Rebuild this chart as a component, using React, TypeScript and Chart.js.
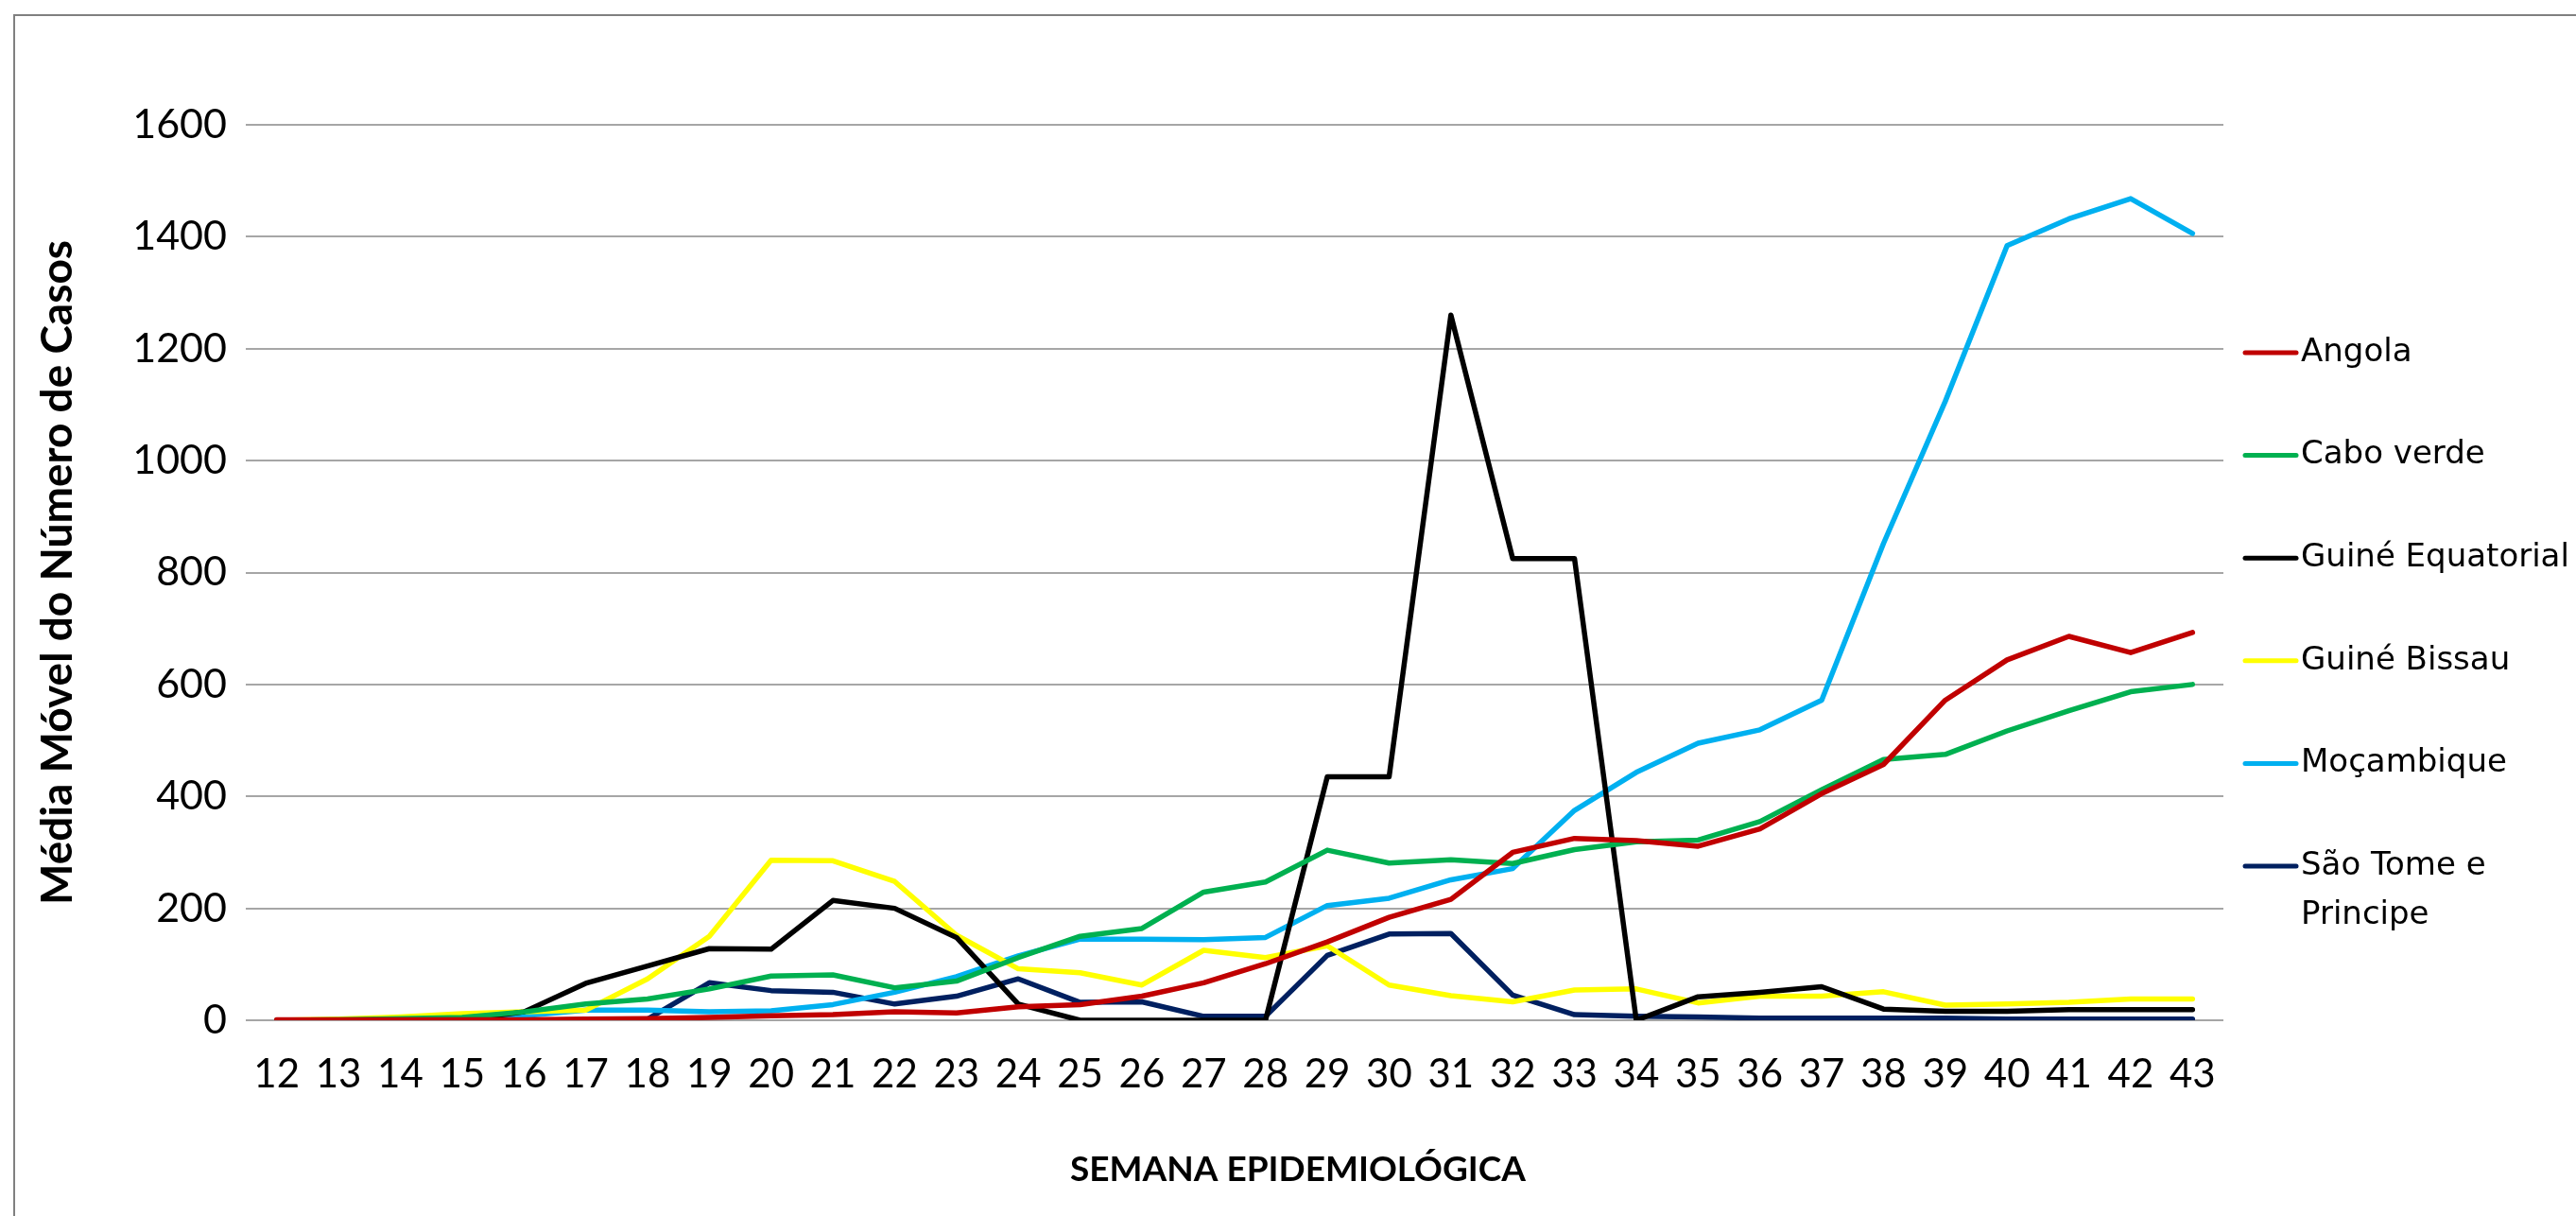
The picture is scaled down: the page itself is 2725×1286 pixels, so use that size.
import React, { useEffect, useRef } from "react";
import { Chart, registerables } from "chart.js";

Chart.register(...registerables);

const weeks: string[] = ["12","13","14","15","16","17","18","19","20","21","22","23","24","25","26","27","28","29","30","31","32","33","34","35","36","37","38","39","40","41","42","43"];

const angola: number[] = [1,1,1,1,1,2,3,5,8,10,15,13,24,28,43,67,101,140,184,216,300,325,321,311,342,405,457,572,644,686,657,693];
const caboVerde: number[] = [0,1,3,5,15,29,38,56,79,81,58,70,112,150,164,229,247,304,281,287,280,305,319,322,355,412,466,475,517,553,587,600];
const guineEquatorial: number[] = [0,0,0,0,15,66,97,128,127,214,200,148,29,0,0,0,0,435,435,1260,825,825,0,42,50,60,20,16,16,19,19,19];
const guineBissau: number[] = [0,2,6,12,15,18,74,150,286,285,248,152,92,85,63,125,112,133,63,44,33,54,56,31,43,43,51,27,29,32,38,38];
const mocambique: number[] = [0,1,2,4,8,18,18,15,17,28,50,78,115,145,145,144,148,205,218,251,271,375,443,495,519,572,852,1106,1384,1432,1468,1406];
const saoTome: number[] = [0,0,0,0,0,1,2,67,53,50,29,43,74,32,33,7,7,116,154,155,45,10,7,6,4,4,4,4,2,2,2,2];

const seriesNames: string[] = ["Angola", "Cabo verde", "Guiné Equatorial", "Guiné Bissau", "Moçambique", "São Tome e Principe"];
const seriesColors: string[] = ["#C00000", "#00B050", "#000000", "#FFFF00", "#00B0F0", "#002060"];
const seriesValues: number[][] = [angola, caboVerde, guineEquatorial, guineBissau, mocambique, saoTome];

const yTitle = "Média Móvel do Número de Casos";
const xTitle = "SEMANA EPIDEMIOLÓGICA";

const W = 2725;
const H = 1286;

const decorPlugin = {
  id: "decor",
  afterDraw(chart: any) {
    const ctx = chart.ctx;
    const area = chart.chartArea;
    ctx.save();
    ctx.strokeStyle = "#808080";
    ctx.lineWidth = 2;
    ctx.beginPath();
    ctx.moveTo(15, H);
    ctx.lineTo(15, 16);
    ctx.lineTo(W, 16);
    ctx.stroke();

    ctx.fillStyle = "#000";
    ctx.font = "bold 46px Lato";
    ctx.textAlign = "center";
    ctx.textBaseline = "middle";
    ctx.save();
    ctx.translate(61, (area.top + area.bottom) / 2);
    ctx.rotate(-Math.PI / 2);
    ctx.fillText(yTitle, 0, 0);
    ctx.restore();

    ctx.font = "bold 37px Lato";
    ctx.fillText(xTitle, 1373, 1237);

    ctx.font = "34px 'DejaVu Sans'";
    ctx.textAlign = "left";
    ctx.textBaseline = "middle";
    const lineX0 = 2375;
    const lineX1 = 2429;
    const textX = 2434;
    const rowY0 = 373;
    const rowStep = 108.6;
    const lineH = 52;
    chart.data.datasets.forEach((ds: any, i: number) => {
      const y = rowY0 + i * rowStep;
      ctx.strokeStyle = ds.borderColor;
      ctx.lineWidth = 5;
      ctx.lineCap = "round";
      ctx.beginPath();
      ctx.moveTo(lineX0, y);
      ctx.lineTo(lineX1, y);
      ctx.stroke();
      const words = String(ds.label).split(" ");
      const lines: string[] = [];
      let cur = "";
      words.forEach((w: string) => {
        const test = cur ? cur + " " + w : w;
        if (ctx.measureText(test).width > 290 && cur) {
          lines.push(cur);
          cur = w;
        } else cur = test;
      });
      if (cur) lines.push(cur);
      ctx.fillStyle = "#000";
      lines.forEach((l, k) => ctx.fillText(l, textX, y + k * lineH));
    });
    ctx.restore();
  },
};

export default function App() {
  const ref = useRef<HTMLCanvasElement | null>(null);
  useEffect(() => {
    if (!ref.current) return;
    const chart = new Chart(ref.current, {
      type: "line",
      data: {
        labels: weeks,
        datasets: seriesNames.map((name, i) => ({
          label: name,
          data: seriesValues[i],
          borderColor: seriesColors[i],
          backgroundColor: seriesColors[i],
          borderWidth: 5.5,
          pointRadius: 0,
          tension: 0,
          borderCapStyle: "round",
          borderJoinStyle: "round",
          fill: false,
        })),
      },
      options: {
        animation: false,
        responsive: false,
        maintainAspectRatio: false,
        layout: { padding: { left: 0, top: 132, right: 373, bottom: 0 } },
        plugins: { legend: { display: false }, tooltip: { enabled: false }, title: { display: false } },
        scales: {
          x: {
            offset: true,
            grid: { display: false, drawTicks: false },
            border: { display: false },
            ticks: { color: "#000", font: { family: "Lato", size: 42 }, padding: 32, maxRotation: 0, autoSkip: false },
            afterFit: (s: any) => { s.height = H - 1079; },
          },
          y: {
            min: 0,
            max: 1600,
            grid: { color: "#A6A6A6", lineWidth: 2, drawTicks: false },
            border: { display: false },
            ticks: {
              stepSize: 200,
              color: "#000",
              font: { family: "Lato", size: 43 },
              padding: 20,
              callback: (v: any) => String(v),
            },
            afterFit: (s: any) => { s.width = 260; },
          },
        },
      },
      plugins: [decorPlugin],
    });
    return () => chart.destroy();
  }, []);
  return (
    <div style={{ position: "fixed", left: 0, top: 0, width: W, height: H }}>
      <canvas ref={ref} width={W} height={H} style={{ width: W, height: H, display: "block" }} />
    </div>
  );
}
